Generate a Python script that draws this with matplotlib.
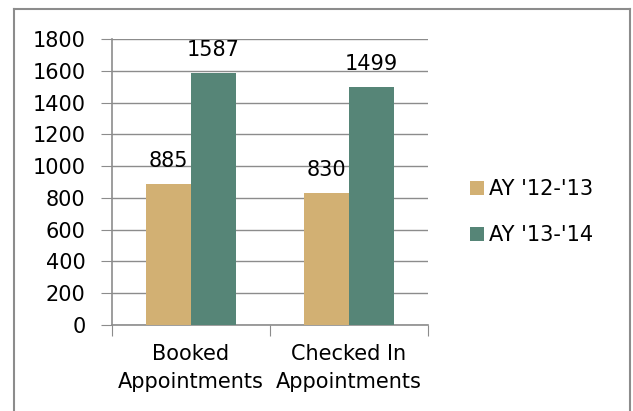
import numpy as np
import matplotlib
matplotlib.use('Agg')
import matplotlib.pyplot as plt
from matplotlib.lines import Line2D

categories = ['Booked\nAppointments', 'Checked In\nAppointments']
series_names = ["AY '12-'13", "AY '13-'14"]
ay_12_13 = [885, 830]
ay_13_14 = [1587, 1499]
y_ticks = [0, 200, 400, 600, 800, 1000, 1200, 1400, 1600, 1800]

tan = '#D2B073'
green = '#568577'
grey = '#8C8C8C'

plt.rcParams['font.family'] = ['DejaVu Sans']
fig = plt.figure(figsize=(6.33, 4.11), dpi=100)
ax = fig.add_axes([112 / 633, 1 - 325 / 411, 316 / 633, 286 / 411])

x = np.arange(len(categories))
w = 0.2857
b1 = ax.bar(x - w / 2, ay_12_13, w, color=tan, label=series_names[0], zorder=3)
b2 = ax.bar(x + w / 2, ay_13_14, w, color=green, label=series_names[1], zorder=3)

for bars in (b1, b2):
    for rect in bars:
        ax.annotate(f'{int(rect.get_height())}',
                    (rect.get_x() + rect.get_width() / 2, rect.get_height()),
                    xytext=(0, 9.5), textcoords='offset points',
                    ha='center', va='bottom', fontsize=15)

ax.set_xlim(-0.5, len(categories) - 0.5)
ax.set_ylim(0, 1800)
ax.set_yticks(y_ticks)
ax.yaxis.grid(True, color=grey, linewidth=1, zorder=0)

# category boundary ticks + centered labels
ax.set_xticks(np.arange(len(categories) + 1) - 0.5)
ax.set_xticklabels([])
ax.set_xticks(x, minor=True)
ax.set_xticklabels(categories, minor=True, fontsize=15, linespacing=1.5)
ax.tick_params(axis='x', which='major', length=8, color=grey, direction='out')
ax.tick_params(axis='x', which='minor', length=0, pad=14)
ax.tick_params(axis='y', length=8, color=grey, labelsize=15, pad=11)

for s in ('top', 'right'):
    ax.spines[s].set_visible(False)
for s in ('left', 'bottom'):
    ax.spines[s].set_color(grey)
    ax.spines[s].set_linewidth(1.2)

leg = ax.legend(loc='center left', bbox_to_anchor=(470 / 633, 1 - 212 / 411),
                bbox_transform=fig.transFigure, frameon=False, fontsize=15,
                handlelength=0.65, handleheight=0.65, handletextpad=0.25,
                labelspacing=1.25, borderpad=0, borderaxespad=0)

# outer chart border (left, top, right)
fx0, fx1, fy1 = 14 / 633, 630 / 633, 1 - 9 / 411
for xs, ys in (([fx0, fx0], [0, fy1]), ([fx0, fx1], [fy1, fy1]), ([fx1, fx1], [fy1, 0])):
    fig.add_artist(Line2D(xs, ys, transform=fig.transFigure, color=grey, linewidth=1.5))

fig.savefig('out.png', dpi=100)
